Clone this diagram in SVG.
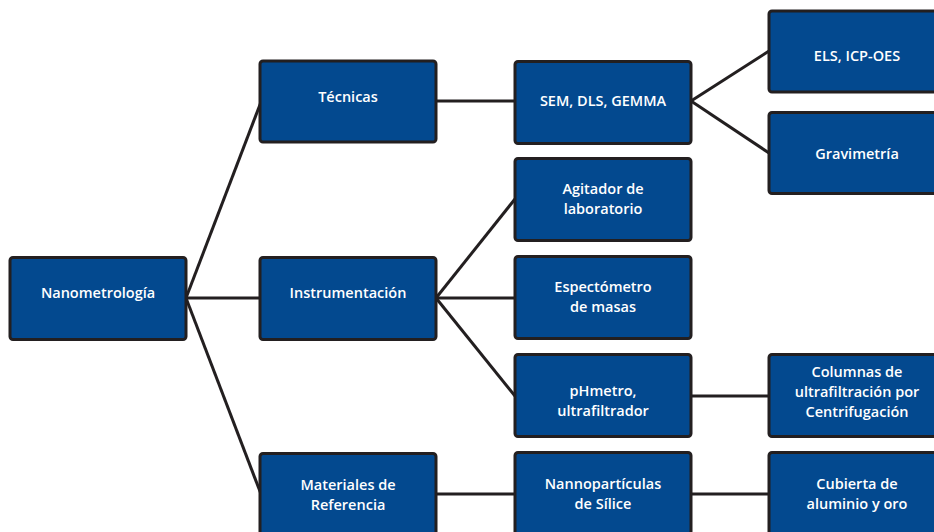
<svg xmlns="http://www.w3.org/2000/svg" width="934" height="532" viewBox="0 0 934 532">
<style>
.box{fill:#03498f;stroke:#231f20;stroke-width:3}
.t{font-family:"Open Sans","Noto Sans",sans-serif;font-size:14.5px;font-weight:600;fill:#ffffff;text-anchor:middle}
.c{stroke:#231f20;stroke-width:3;fill:none;stroke-linecap:butt}
</style>
<rect width="934" height="532" fill="#ffffff"/>
<g id="connectors">
<line class="c" x1="186" y1="298" x2="261" y2="102"/>
<line class="c" x1="186" y1="298" x2="261" y2="298"/>
<line class="c" x1="186" y1="298" x2="261" y2="494"/>
<line class="c" x1="436" y1="101" x2="515" y2="101"/>
<line class="c" x1="436" y1="298" x2="515" y2="199"/>
<line class="c" x1="436" y1="298" x2="515" y2="298"/>
<line class="c" x1="436" y1="298" x2="515" y2="396"/>
<line class="c" x1="691" y1="101" x2="769" y2="51"/>
<line class="c" x1="691" y1="101" x2="769" y2="153"/>
<line class="c" x1="691" y1="396" x2="769" y2="396"/>
<line class="c" x1="436" y1="494" x2="515" y2="494"/>
<line class="c" x1="691" y1="494" x2="769" y2="494"/>
</g>
<g id="nanometrologia"><rect class="box" x="10" y="257.5" width="176" height="82" rx="3"/><text class="t" x="98" y="298">Nanometrología</text></g>
<g id="tecnicas"><rect class="box" x="260" y="61" width="176" height="81" rx="3"/><text class="t" x="348" y="102">Técnicas</text></g>
<g id="instrumentacion"><rect class="box" x="260" y="257.5" width="176" height="82" rx="3"/><text class="t" x="348" y="298">Instrumentación</text></g>
<g id="materiales"><rect class="box" x="260" y="453.5" width="176" height="82" rx="3"/><text class="t" x="348" y="490">Materiales de</text><text class="t" x="348" y="510">Referencia</text></g>
<g id="sem"><rect class="box" x="515" y="61.5" width="176" height="82" rx="3"/><text class="t" x="603" y="106">SEM, DLS, GEMMA</text></g>
<g id="agitador"><rect class="box" x="515" y="158.5" width="176" height="82" rx="3"/><text class="t" x="603" y="194">Agitador de</text><text class="t" x="603" y="214">laboratorio</text></g>
<g id="espectometro"><rect class="box" x="515" y="256.5" width="176" height="82" rx="3"/><text class="t" x="603" y="292">Espectómetro</text><text class="t" x="603" y="312">de masas</text></g>
<g id="phmetro"><rect class="box" x="515" y="354.5" width="176" height="82" rx="3"/><text class="t" x="603" y="396">pHmetro,</text><text class="t" x="603" y="416">ultrafiltrador</text></g>
<g id="nanoparticulas"><rect class="box" x="515" y="452.5" width="176" height="82" rx="3"/><text class="t" x="603" y="489">Nannopartículas</text><text class="t" x="603" y="509">de Sílice</text></g>
<g id="els"><rect class="box" x="769" y="11" width="176" height="81" rx="3"/><text class="t" x="857" y="61">ELS, ICP-OES</text></g>
<g id="gravimetria"><rect class="box" x="769" y="112.5" width="176" height="81" rx="3"/><text class="t" x="857" y="159">Gravimetría</text></g>
<g id="columnas"><rect class="box" x="769" y="354.5" width="176" height="82" rx="3"/><text class="t" x="857" y="377">Columnas de</text><text class="t" x="857" y="397">ultrafiltración por</text><text class="t" x="857" y="417">Centrifugación</text></g>
<g id="cubierta"><rect class="box" x="769" y="452.5" width="176" height="82" rx="3"/><text class="t" x="857" y="489">Cubierta de</text><text class="t" x="857" y="509">aluminio y oro</text></g>
</svg>
